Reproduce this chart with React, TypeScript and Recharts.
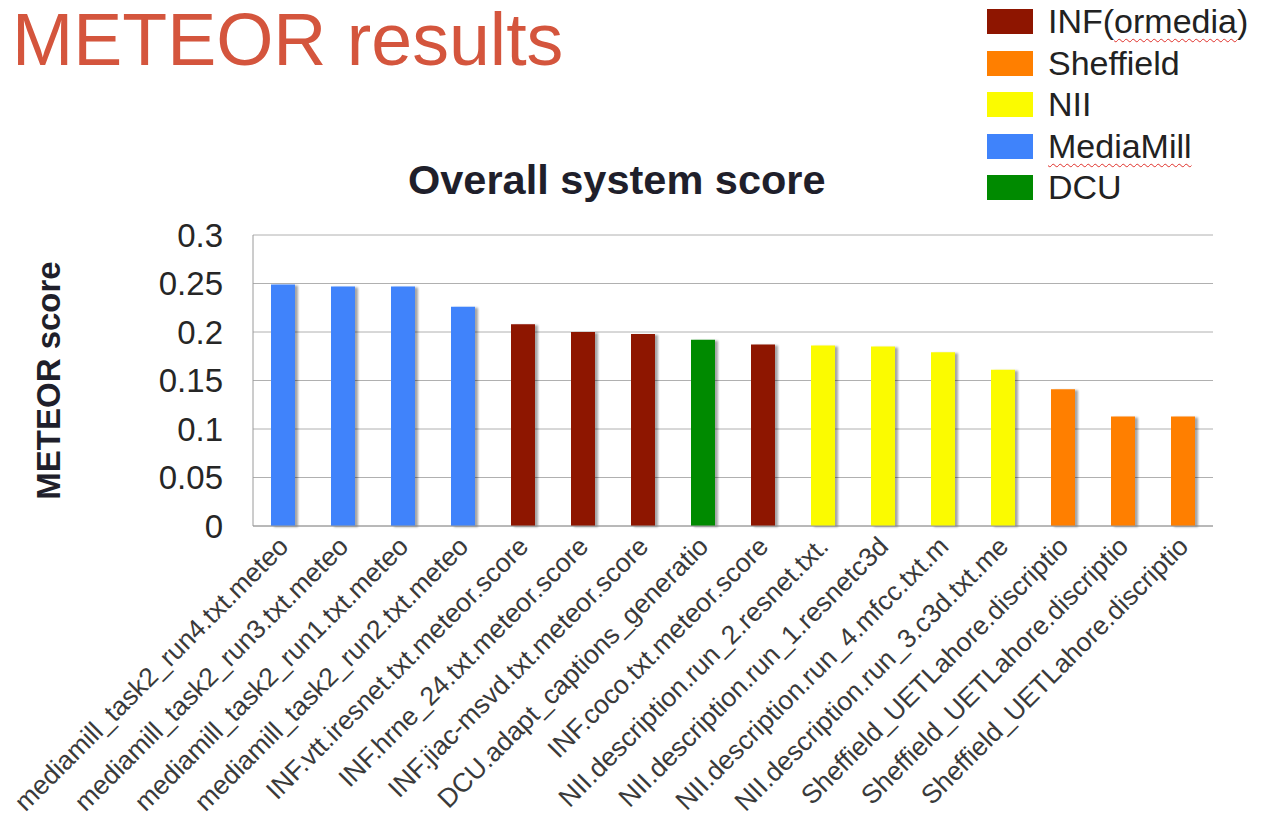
import { BarChart, Bar, XAxis, YAxis, CartesianGrid, Cell, Label } from "recharts"

const runs = [
    "mediamill_task2_run4.txt.meteo",
    "mediamill_task2_run3.txt.meteo",
    "mediamill_task2_run1.txt.meteo",
    "mediamill_task2_run2.txt.meteo",
    "INF.vtt.iresnet.txt.meteor.score",
    "INF.hrne_24.txt.meteor.score",
    "INF.jiac-msvd.txt.meteor.score",
    "DCU.adapt_captions_generatio",
    "INF.coco.txt.meteor.score",
    "NII.description.run_2.resnet.txt.",
    "NII.description.run_1.resnetc3d",
    "NII.description.run_4.mfcc.txt.m",
    "NII.description.run_3.c3d.txt.me",
    "Sheffield_UETLahore.discriptio",
    "Sheffield_UETLahore.discriptio",
    "Sheffield_UETLahore.discriptio",
]

const scores = [0.249, 0.247, 0.247, 0.226, 0.208, 0.2, 0.198, 0.192, 0.187, 0.186, 0.185, 0.179, 0.161, 0.141, 0.113, 0.113]

const runGroups = [3, 3, 3, 3, 0, 0, 0, 4, 0, 2, 2, 2, 2, 1, 1, 1]

const groupNames = ["INF(ormedia)", "Sheffield", "NII", "MediaMill", "DCU"]
const groupColors = ["#8e1500", "#ff7f00", "#fbfb00", "#3f83fb", "#008a00"]
const squiggly = ["ormedia", "MediaMill"]

const yTicks = [0, 0.05, 0.1, 0.15, 0.2, 0.25, 0.3]

const FONT = "'Liberation Sans', Arial, Helvetica, sans-serif"

const data = runs.map((run, i) => ({ key: `${i}`, run, score: scores[i], group: runGroups[i] }))

function RunTick({ x, y, payload }: any) {
    const ax = x + 7
    const ay = y + 14
    return (
        <text
            x={ax}
            y={ay}
            transform={`rotate(-45 ${ax} ${ay})`}
            textAnchor="end"
            fontSize={26.5}
            fill="#3a3a3a"
            fontFamily={FONT}
        >
            {runs[payload.index] ?? payload.value}
        </text>
    )
}

function withSquiggle(name: string) {
    const word = squiggly.find((w) => name.includes(w))
    if (!word) return name
    const [before, after] = name.split(word)
    return (
        <>
            {before}
            <span style={{ textDecoration: "underline wavy #e0302a", textDecorationThickness: 1, textUnderlineOffset: 5 }}>{word}</span>
            {after}
        </>
    )
}

export default function App() {
    return (
        <div style={{ position: "absolute", left: 0, top: 0, width: 1262, height: 835, background: "#fff", fontFamily: FONT }}>
            <div style={{ position: "absolute", left: 12, top: 0, fontSize: 73.5, color: "#d4553d", whiteSpace: "nowrap", lineHeight: "80px" }}>
                METEOR results
            </div>
            <div style={{ position: "absolute", left: 408, top: 156, fontSize: 41.5, fontWeight: "bold", color: "#1f1f2b", whiteSpace: "nowrap", lineHeight: "48px" }}>
                Overall system score
            </div>
            <div style={{ position: "absolute", left: 987, top: 1 }}>
                {groupNames.map((name, i) => (
                    <div key={name} style={{ display: "flex", alignItems: "center", height: 41.5 }}>
                        <div style={{ width: 46, height: 25, background: groupColors[i], marginRight: 15 }} />
                        <span style={{ fontSize: 34, color: "#222", whiteSpace: "nowrap" }}>{withSquiggle(name)}</span>
                    </div>
                ))}
            </div>
            <div style={{ position: "absolute", left: 0, top: 0 }}>
                <BarChart width={1262} height={835} data={data} margin={{ top: 235, right: 49, left: 33, bottom: 9 }}>
                    <defs>
                        <filter id="barShadow" x="-20%" y="-5%" width="160%" height="110%">
                            <feDropShadow dx="3" dy="1" stdDeviation="1.2" floodColor="#000" floodOpacity="0.35" />
                        </filter>
                    </defs>
                    <CartesianGrid vertical={false} stroke="#b0b0b0" />
                    <XAxis
                        dataKey="key"
                        interval={0}
                        height={300}
                        tickLine={false}
                        axisLine={{ stroke: "#9a9a9a" }}
                        tick={<RunTick />}
                    />
                    <YAxis
                        width={220}
                        domain={[0, 0.3]}
                        ticks={yTicks}
                        tickLine={false}
                        axisLine={{ stroke: "#9a9a9a" }}
                        tickMargin={24}
                        tick={{ fontSize: 33, fill: "#262626", fontFamily: FONT }}
                    >
                        <Label
                            content={({ viewBox }: any) => {
                                const cx = viewBox.x + 15
                                const cy = viewBox.y + viewBox.height / 2
                                return (
                                    <text
                                        x={cx}
                                        y={cy}
                                        transform={`rotate(-90 ${cx} ${cy})`}
                                        textAnchor="middle"
                                        dominantBaseline="central"
                                        fontSize={33}
                                        fontWeight="bold"
                                        fill="#1f1f2b"
                                        fontFamily={FONT}
                                    >
                                        METEOR score
                                    </text>
                                )
                            }}
                        />
                    </YAxis>
                    <Bar dataKey="score" barSize={24} isAnimationActive={false}>
                        {data.map((d) => (
                            <Cell key={d.key} fill={groupColors[d.group]} filter="url(#barShadow)" />
                        ))}
                    </Bar>
                </BarChart>
            </div>
        </div>
    )
}
